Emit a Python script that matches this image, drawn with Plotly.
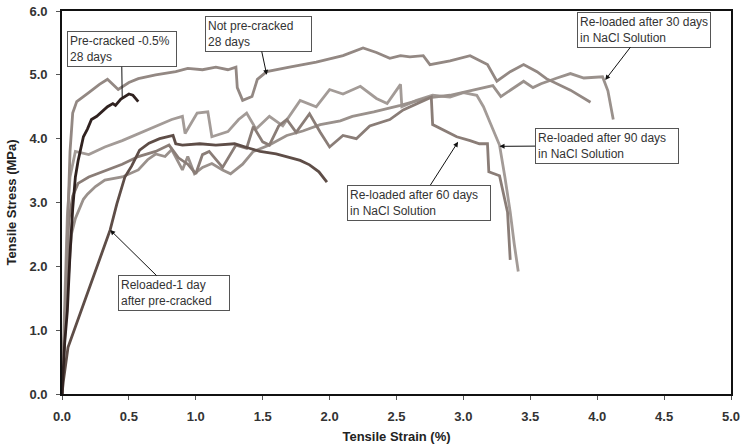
import plotly.graph_objects as go

# ---------------- data ----------------
not_pre_x = [0, 0.02, 0.04, 0.06, 0.08, 0.11, 0.2, 0.28, 0.34, 0.38, 0.42, 0.5, 0.57, 0.7, 0.85, 0.94,
             1.05, 1.15, 1.24, 1.3, 1.31, 1.35, 1.42, 1.46, 1.53, 1.7, 1.9, 2.1, 2.25, 2.35, 2.45, 2.53,
             2.6, 2.7, 2.75, 2.9, 3.05, 3.18, 3.22, 3.25, 3.35, 3.45, 3.55, 3.62, 3.8, 3.95]
not_pre_y = [0, 1.0, 2.5, 3.8, 4.4, 4.58, 4.72, 4.85, 4.93, 4.85, 4.77, 4.88, 4.94, 5.0, 5.05, 5.1,
             5.08, 5.12, 5.08, 5.12, 4.8, 4.6, 4.66, 4.93, 5.05, 5.12, 5.2, 5.3, 5.42, 5.35, 5.26, 5.3,
             5.28, 5.3, 5.16, 5.22, 5.3, 5.16, 5.02, 4.9, 5.05, 5.16, 5.05, 4.94, 4.76, 4.57]

pre_x = [0, 0.02, 0.04, 0.045, 0.06, 0.08, 0.1, 0.12, 0.14, 0.16, 0.19, 0.22, 0.26, 0.3, 0.34, 0.38,
         0.4, 0.44, 0.47, 0.5, 0.53, 0.55, 0.57]
pre_y = [0, 0.8, 1.3, 1.6, 2.2, 2.9, 3.4, 3.65, 3.85, 4.03, 4.15, 4.3, 4.35, 4.42, 4.5, 4.55,
         4.52, 4.62, 4.66, 4.7, 4.68, 4.62, 4.58]

day1_x = [0, 0.01, 0.045, 0.1, 0.15, 0.25, 0.36, 0.41, 0.47, 0.52, 0.58, 0.65, 0.73, 0.83, 0.85,
          0.9, 1.03, 1.15, 1.29, 1.4, 1.48, 1.6, 1.68, 1.78, 1.85, 1.92, 1.98]
day1_y = [0, 0.2, 0.73, 1.05, 1.35, 1.95, 2.57, 2.98, 3.4, 3.57, 3.82, 3.93, 4.0, 4.05, 3.92,
          3.9, 3.92, 3.9, 3.92, 3.85, 3.8, 3.76, 3.72, 3.66, 3.59, 3.48, 3.32]

d90_x = [0, 0.02, 0.04, 0.06, 0.1, 0.2, 0.32, 0.45, 0.57, 0.7, 0.82, 0.9, 0.92, 1.01, 1.09, 1.12,
         1.24, 1.32, 1.38, 1.45, 1.55, 1.65, 1.78, 1.9, 2.0, 2.1, 2.23, 2.35, 2.43, 2.53, 2.54, 2.65,
         2.77, 2.9, 3.0, 3.1, 3.15, 3.2, 3.27, 3.31, 3.35, 3.38, 3.41]
d90_y = [0, 1.5, 2.8, 3.4, 3.8, 3.75, 3.87, 3.97, 4.08, 4.2, 4.3, 4.35, 4.08, 4.4, 4.42, 4.03,
         4.11, 4.3, 4.4, 4.15, 4.35, 4.2, 4.6, 4.5, 4.77, 4.7, 4.82, 4.63, 4.55, 4.85, 4.5, 4.6,
         4.68, 4.65, 4.72, 4.68, 4.5, 4.25, 3.9, 3.4, 2.85, 2.35, 1.92]

d60_x = [0, 0.03, 0.05, 0.08, 0.12, 0.2, 0.32, 0.45, 0.57, 0.7, 0.8, 0.87, 0.94, 1.0, 1.05, 1.1,
         1.2, 1.3, 1.38, 1.43, 1.5, 1.55, 1.62, 1.68, 1.75, 1.85, 1.93, 2.0, 2.1, 2.2, 2.3, 2.45,
         2.55, 2.65, 2.76, 2.77, 2.83, 2.95, 3.05, 3.12, 3.18, 3.19, 3.27, 3.3, 3.33, 3.35]
d60_y = [0, 1.5, 2.7, 3.1, 3.3, 3.4, 3.5, 3.6, 3.72, 3.8, 3.9, 3.7, 3.6, 3.45, 3.75, 3.8,
         3.55, 3.9, 3.85, 4.19, 3.95, 3.9, 4.2, 4.3, 4.1, 4.39, 4.1, 3.87, 4.05, 4.0, 4.2, 4.3,
         4.45, 4.55, 4.65, 4.22, 4.16, 4.03, 3.97, 3.92, 3.92, 3.48, 3.42, 3.15, 2.85, 2.1]

d30_x = [0, 0.03, 0.07, 0.1, 0.16, 0.19, 0.25, 0.32, 0.45, 0.57, 0.64, 0.7, 0.77, 0.82, 0.9, 0.94,
         0.99, 1.05, 1.12, 1.2, 1.26, 1.35, 1.43, 1.55, 1.68, 1.8, 1.93, 2.08, 2.17, 2.33, 2.53, 2.73,
         2.9, 3.03, 3.22, 3.28, 3.35, 3.45, 3.52, 3.58, 3.7, 3.8, 3.9, 4.04, 4.08, 4.12]
d30_y = [0, 1.3, 2.5, 2.75, 3.05, 3.13, 3.25, 3.35, 3.4, 3.51, 3.67, 3.76, 3.72, 3.83, 3.51, 3.72,
         3.45, 3.55, 3.61, 3.51, 3.45, 3.6, 3.8, 3.9, 4.05, 4.12, 4.22, 4.28, 4.35, 4.42, 4.52, 4.64,
         4.68, 4.74, 4.83, 4.66, 4.76, 4.9, 4.8, 4.86, 4.95, 5.02, 4.95, 4.97, 4.75, 4.3]

series = [
    ("Re-loaded after 90 days", d90_x, d90_y, "#a39b97"),
    ("Re-loaded after 30 days", d30_x, d30_y, "#9a918c"),
    ("Re-loaded after 60 days", d60_x, d60_y, "#8a7d77"),
    ("Not pre-cracked 28 days", not_pre_x, not_pre_y, "#938883"),
    ("Reloaded-1 day", day1_x, day1_y, "#5e4d47"),
    ("Pre-cracked -0.5% 28 days", pre_x, pre_y, "#302220"),
]

x_ticks = [0, 0.5, 1.0, 1.5, 2.0, 2.5, 3.0, 3.5, 4.0, 4.5, 5.0]
y_ticks = [0, 1, 2, 3, 4, 5, 6]

fig = go.Figure()
for name, xs, ys, col in series:
    fig.add_trace(go.Scatter(x=xs, y=ys, mode="lines", name=name,
                             line=dict(color=col, width=2.8)))

FONT = "Liberation Sans, Arial, sans-serif"

# annotations: (text, arrow-head x, y, box centre x, y, width, arrowhead)
notes = [
    ("Pre-cracked -0.5%<br>28 days", 0.45, 4.65, 0.445, 5.40, 104, 0),
    ("Not pre-cracked<br>28 days", 1.53, 5.0, 1.465, 5.64, 101, 2),
    ("Re-loaded after 30 days<br>in NaCl Solution", 4.06, 4.92, 4.35, 5.71, 128, 2),
    ("Re-loaded after 90 days<br>in NaCl Solution", 3.27, 3.88, 4.07, 3.89, 138, 2),
    ("Re-loaded after 60 days<br>in NaCl Solution", 2.96, 3.95, 2.67, 3.0, 138, 2),
    ("Reloaded-1 day<br>after pre-cracked", 0.36, 2.57, 0.84, 1.58, 106, 2),
]
for text, x, y, ax, ay, w, head in notes:
    fig.add_annotation(x=x, y=y, ax=ax, ay=ay, xref="x", yref="y", axref="x", ayref="y",
                       text=text, showarrow=True, arrowhead=head, arrowsize=1, arrowwidth=1,
                       arrowcolor="#111", align="left", width=w,
                       font=dict(family=FONT, size=12, color="#333"),
                       bgcolor="white", bordercolor="#555", borderwidth=1, borderpad=2)

fig.update_layout(
    width=743, height=446,
    margin=dict(l=62, r=12, t=11, b=52, autoexpand=False),
    paper_bgcolor="white", plot_bgcolor="white",
    showlegend=False,
    font=dict(family=FONT, color="#222"),
)
fig.update_xaxes(range=[0, 5], tickvals=x_ticks, tickformat=".1f", automargin=False,
                 showgrid=False, zeroline=False, showline=True, linecolor="#111",
                 linewidth=1.6, mirror=True, ticks="outside", ticklen=4, tickcolor="#555",
                 tickfont=dict(family=FONT, size=13, weight="bold", color="#333"),
                 ticklabelstandoff=6,
                 title=dict(text="Tensile Strain (%)", standoff=8,
                            font=dict(family=FONT, size=13, weight="bold", color="#222")))
fig.update_yaxes(range=[0, 6], tickvals=y_ticks, tickformat=".1f", automargin=False,
                 showgrid=False, zeroline=False, showline=True, linecolor="#111",
                 linewidth=1.6, mirror=True, ticks="outside", ticklen=4, tickcolor="#555",
                 tickfont=dict(family=FONT, size=13, weight="bold", color="#333"),
                 ticklabelstandoff=6,
                 title=dict(text="Tensile Stress (MPa)", standoff=10,
                            font=dict(family=FONT, size=13, weight="bold", color="#222")))

fig.write_html("out.html")
